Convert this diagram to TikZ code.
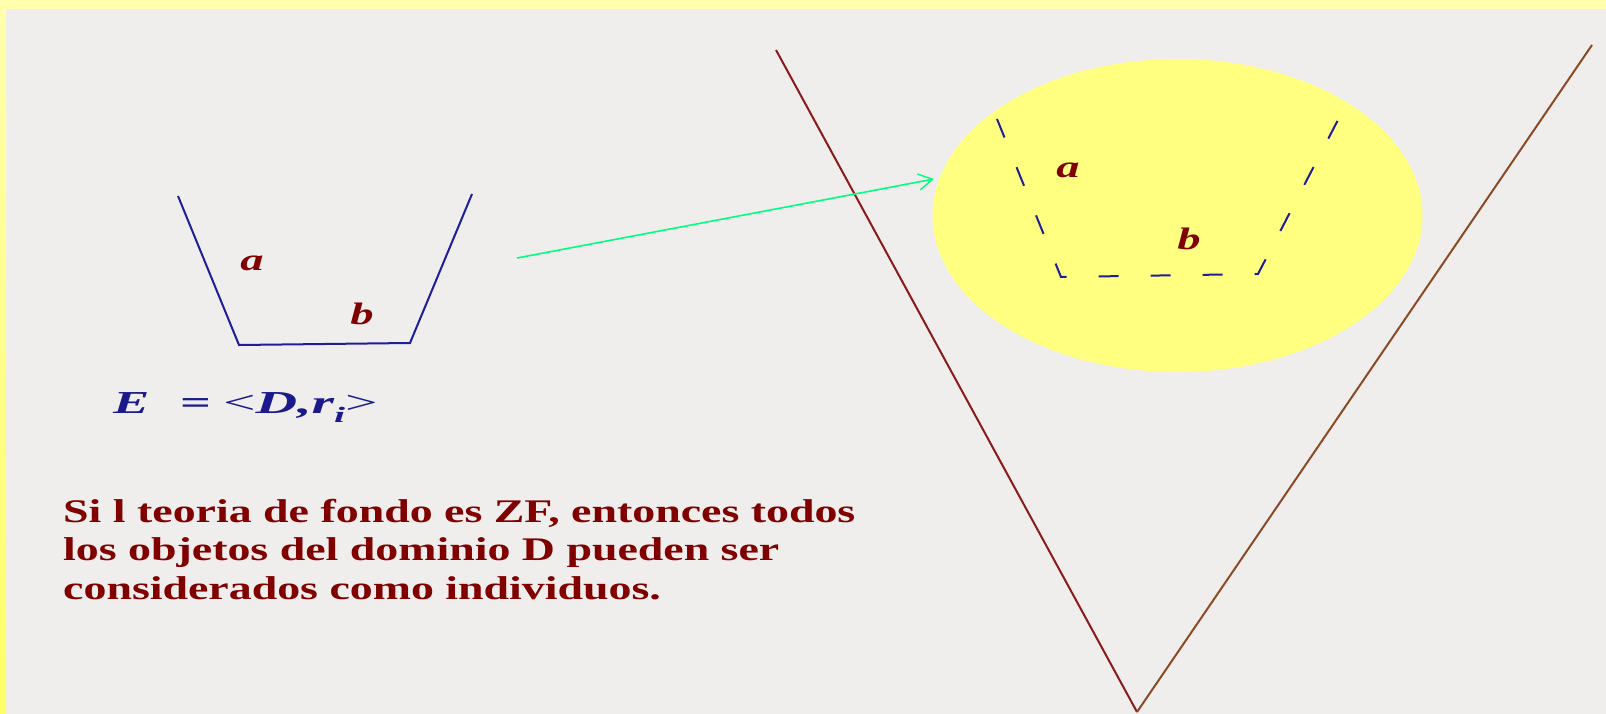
\documentclass[tikz,border=0pt]{standalone}
\usepackage{fontspec}
\setmainfont{Liberation Serif}
\usetikzlibrary{arrows.meta,shapes.geometric}
\definecolor{bgcol}{HTML}{EFEEEC}
\definecolor{topyel}{HTML}{FFFFAE}
\definecolor{leftyel}{HTML}{FFFF66}
\definecolor{ellcol}{HTML}{FFFF80}
\definecolor{navy}{HTML}{1E1E96}
\definecolor{fnavy}{HTML}{1A1A8C}
\definecolor{dred}{HTML}{800000}
\definecolor{vred}{HTML}{8B1A1A}
\definecolor{vbrown}{HTML}{8B4A26}
\definecolor{sgreen}{HTML}{00FF80}
\newcommand{\wide}[1]{\scalebox{1.39}[1]{#1}}
\newcommand{\wider}[1]{\scalebox{1.7}[1]{#1}}
\newcommand{\widest}[1]{\scalebox{1.8}[1]{#1}}
\newcommand{\widel}[1]{\scalebox{1.5}[1]{#1}}
\begin{document}
\begin{tikzpicture}[x=1pt,y=-1pt,
  lbl/.style={inner sep=0pt,text=dred,font=\fontsize{31}{31}\selectfont\bfseries\itshape},
  para/.style={inner sep=0pt,anchor=base west,text=dred,font=\fontsize{33}{38}\selectfont\bfseries},
  form/.style={inner sep=0pt,anchor=base west,text=fnavy,font=\fontsize{32}{32}\selectfont\bfseries\itshape},
  trap/.style={navy,line width=2pt},
  vline/.style={line width=2pt}
]
\useasboundingbox (0,0) rectangle (1606,714);
\fill[bgcol] (0,0) rectangle (1606,714);
\fill[topyel] (0,0) rectangle (1606,9);
\shade[top color=topyel,bottom color=leftyel] (0,0) rectangle (6,714);

% big V
\coordinate (vl) at (776,50);
\coordinate (vb) at (1137,712);
\coordinate (vr) at (1592,45);

% yellow ellipse
\node[ellipse,fill=ellcol,minimum width=490pt,minimum height=313pt,inner sep=0pt] (circ) at (1177.5,215.5) {};

\draw[vline,vred] (vl) -- (vb);
\draw[vline,vbrown] (vb) -- (vr);

% left trapezoid
\coordinate (t1) at (178,196);
\coordinate (t2) at (239,345);
\coordinate (t3) at (410,343);
\coordinate (t4) at (472,194);
\draw[trap] (t1) -- (t2) -- (t3) -- (t4);
\node[lbl] (la) at (252,263) {\widel{a}};
\node[lbl] (lb) at (362,314) {\widel{b}};

% dashed trapezoid in ellipse
\coordinate (d1) at (997,119);
\coordinate (d2) at (1061,277);
\coordinate (d3) at (1258,274);
\coordinate (d4) at (1339,118);
\draw[trap,dash pattern=on 20pt off 32pt] (d1) -- (d2) -- (d3) -- (d4);
\node[lbl] (ea) at (1068,170) {\widel{a}};
\node[lbl] (eb) at (1189,239) {\widel{b}};

% green arrow
\coordinate (as) at (517,258);
\coordinate (ae) at (934,179);
\draw[sgreen,line width=1.6pt,-{Straight Barb[length=14pt,width=16pt,line width=1.4pt]}] (as) -- (ae);

% formula
\node[form] (fE) at (113,413) {\wider{E}};
\node[form,font=\fontsize{32}{32}\selectfont\bfseries] (feq) at (180,413) {\wider{=}};
\node[form] (frest) at (223,413) {\widest{{\mdseries\upshape <}D,r\raisebox{-0.3em}{\fontsize{22}{22}\selectfont i}{\mdseries\upshape >}}};

% paragraph
\node[para] (p1) at (63,522) {\wide{Si l teoria de fondo es ZF, entonces todos}};
\node[para] (p2) at (63,560.5) {\wide{los objetos del dominio D pueden ser}};
\node[para] (p3) at (63,599) {\wide{considerados como individuos.}};
\end{tikzpicture}
\end{document}
